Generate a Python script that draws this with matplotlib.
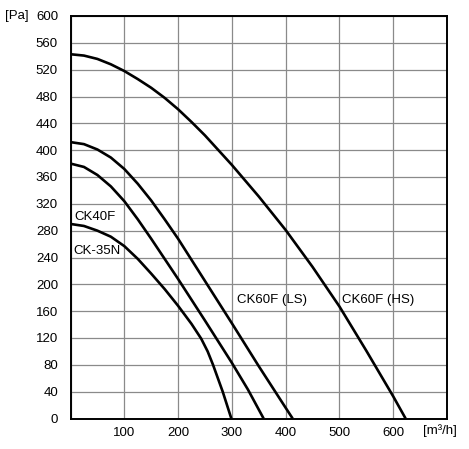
import matplotlib
matplotlib.use("Agg")
import matplotlib.pyplot as plt

plt.rcParams['font.family'] = ['Liberation Sans', 'DejaVu Sans']

# Data (flow m3/h, pressure Pa)
hs_q = [0, 25, 50, 75, 100, 125, 150, 175, 200, 225, 250, 300, 350, 400, 450, 500, 550, 600, 623]
hs_p = [543, 541, 536, 528, 518, 506, 493, 478, 461, 442, 422, 378, 331, 281, 226, 167, 101, 33, 0]

ls_q = [0, 25, 50, 75, 100, 125, 150, 175, 200, 250, 300, 350, 400, 413]
ls_p = [412, 409, 401, 389, 372, 350, 325, 297, 268, 205, 142, 78, 16, 0]

f40_q = [0, 25, 50, 75, 100, 125, 150, 175, 200, 250, 300, 330, 359]
f40_p = [380, 375, 363, 346, 324, 297, 268, 238, 208, 146, 83, 43, 0]

n35_q = [0, 25, 50, 75, 100, 125, 150, 175, 200, 225, 243, 255, 265, 283, 299]
n35_p = [290, 287, 280, 271, 257, 238, 216, 193, 168, 141, 119, 100, 80, 40, 0]

x_ticks = [100, 200, 300, 400, 500, 600]
y_ticks = list(range(0, 601, 40))

labels = ["CK40F", "CK-35N", "CK60F (LS)", "CK60F (HS)"]
label_pos = [(8, 300), (5, 249), (309, 176), (505, 176)]

W, H = 469, 449
fig = plt.figure(figsize=(W / 100, H / 100), dpi=100)
ax = fig.add_axes([70.5 / W, 1 - 418.5 / H, 376.5 / W, 402.5 / H])

ax.set_xlim(0, 700)
ax.set_ylim(0, 600)
ax.set_xticks(x_ticks)
ax.set_yticks(y_ticks)
ax.set_xticks(range(0, 701, 100), minor=True)
ax.grid(True, which='both', color='#8a8a8a', linewidth=0.9)
ax.set_axisbelow(True)
ax.tick_params(length=0, which='both')
ax.tick_params(axis='y', pad=9, labelsize=9.5)
ax.tick_params(axis='x', pad=6, labelsize=9.5)
for s in ax.spines.values():
    s.set_linewidth(1.4)
    s.set_color('black')

for q, p in [(hs_q, hs_p), (ls_q, ls_p), (f40_q, f40_p), (n35_q, n35_p)]:
    ax.plot(q, p, color='black', linewidth=1.9, solid_capstyle='butt',
            solid_joinstyle='round')

for t, (x, y) in zip(labels, label_pos):
    ax.text(x, y, t, fontsize=9.5, ha='left', va='center')

fig.text(5 / W, 1 - 16 / H, "[Pa]", fontsize=9.5, ha='left', va='center')
fig.text(423 / W, 1 - 431 / H, "[m³/h]", fontsize=9.5, ha='left', va='center')

fig.savefig("out.png", dpi=100)
